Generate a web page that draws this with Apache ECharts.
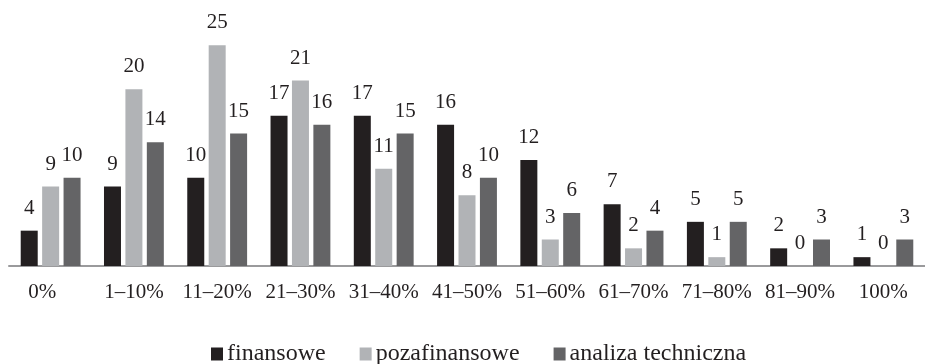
<!DOCTYPE html>
<html><head><meta charset="utf-8">
<script src="https://cdn.jsdelivr.net/npm/echarts@6/dist/echarts.min.js"></script>
<style>html,body{margin:0;padding:0;background:#fff}#c{width:925px;height:364px}</style>
</head><body><div id="c"></div>
<script>
const categories = ['0%','1–10%','11–20%','21–30%','31–40%','41–50%','51–60%','61–70%','71–80%','81–90%','100%'];
const finansowe = [4,9,10,17,17,16,12,7,5,2,1];
const pozafinansowe = [9,20,25,21,11,8,3,2,1,0,0];
const analizaTechniczna = [10,14,15,16,15,10,6,4,5,3,3];
const seriesNames = ['finansowe','pozafinansowe','analiza techniczna'];
const colors = ['#231f20','#b1b3b6','#646466'];
const font = 'Liberation Serif';
const chart = echarts.init(document.getElementById('c'));
const mk = (name, data, color) => ({
  name, type: 'bar', data, barWidth: 17, barGap: '26%',
  itemStyle: { color },
  label: { show: true, position: 'top', distance: 12, color: '#231f20', fontFamily: font, fontSize: 21 }
});
const xData = categories.map((c, i) => i === 0 ? { value: c, textStyle: { padding: [0, 17, 0, 0] } } : c);
chart.setOption({
  animation: false,
  textStyle: { fontFamily: font },
  grid: { left: 9, width: 924, top: 1, bottom: 98, containLabel: false },
  legend: {
    top: 337, left: 206, itemWidth: 12, itemHeight: 13, itemGap: 34,
    icon: 'rect',
    textStyle: { fontFamily: font, fontSize: 24, color: '#231f20', padding: [0,0,0,-1] },
    data: seriesNames
  },
  xAxis: {
    type: 'category', data: xData,
    axisLine: { lineStyle: { color: '#9a9a9c', width: 2 } },
    axisTick: { show: false },
    axisLabel: { fontFamily: font, fontSize: 21, color: '#231f20', margin: 16, interval: 0 }
  },
  yAxis: { type: 'value', min: 0, max: 30, show: false, splitLine: { show: false } },
  series: [
    mk(seriesNames[0], finansowe, colors[0]),
    mk(seriesNames[1], pozafinansowe, colors[1]),
    mk(seriesNames[2], analizaTechniczna, colors[2])
  ]
});
</script></body></html>
